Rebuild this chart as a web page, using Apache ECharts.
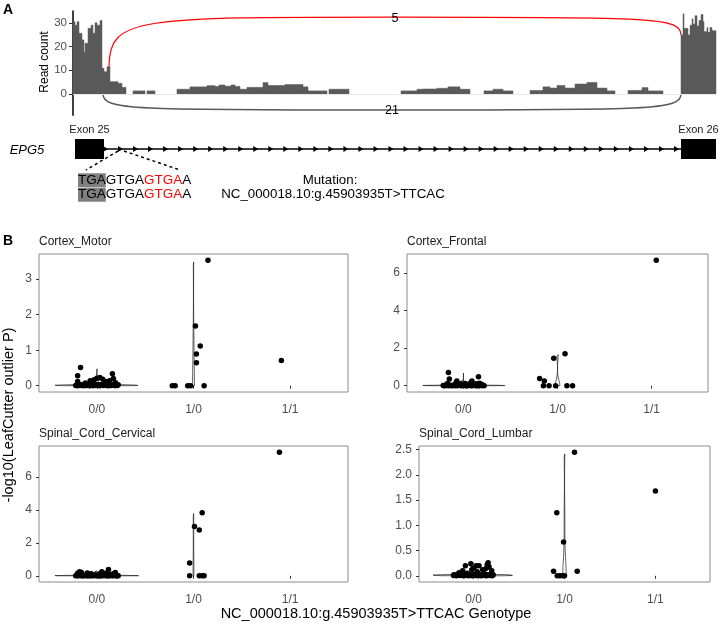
<!DOCTYPE html>
<html>
<head>
<meta charset="utf-8">
<script src="https://cdn.jsdelivr.net/npm/echarts@6.0.0/dist/echarts.min.js"></script>
<style>
  html, body { margin: 0; background: #fff; }
  #chart { width: 722px; height: 628px; }
</style>
</head>
<body>
<div id="chart"></div>
<script>
// ---- panel A: sashimi coverage (position, relative bp) ----
// [start, end, reads]
const coverage = [
  [0, 2, 30.5], [2, 4, 29], [4, 6, 30.5], [6, 9, 25.6], [9, 11, 22.8], [11, 12, 17.4], [12, 15, 21.4],
  [15, 18, 27.7], [18, 20, 29], [20, 22, 25.6], [22, 24, 30], [24, 27, 29], [27, 29, 31],
  [29, 31, 10.8], [31, 34, 9.4], [34, 37, 11.5], [37, 45, 5.2], [45, 49, 4.5], [49, 53, 2.8],
  [60, 72, 1.3], [74, 82, 1.3],
  [104, 117, 2], [117, 134, 3], [134, 142, 3.5], [142, 146, 3.2], [146, 152, 3.8], [152, 158, 3.3],
  [158, 162, 3.8], [162, 167, 3.2], [167, 174, 2], [174, 190, 2.8], [190, 195, 4.8], [195, 212, 3.6],
  [212, 230, 4], [230, 235, 3], [235, 254, 1.3], [256, 276, 2],
  [328, 344, 1.3], [344, 350, 2], [350, 364, 2.1], [364, 375, 2.4], [375, 387, 3], [387, 397, 2],
  [411, 420, 1.3], [420, 430, 2], [430, 440, 1.3],
  [457, 470, 1.5], [470, 477, 3], [477, 484, 2.5], [484, 492, 3.6], [492, 502, 2.5], [502, 514, 4.2],
  [514, 524, 4.9], [524, 534, 2.5], [534, 542, 1.3],
  [555, 569, 1.5], [569, 575, 2.7], [575, 590, 1.3],
  [608, 610, 24.9], [610, 611, 33.8], [611, 615, 27.7], [615, 617, 24.9], [617, 619, 29], [619, 620, 31.7],
  [620, 622, 29.5], [622, 624, 33], [624, 626, 28.7], [626, 628, 31], [628, 630, 33.5], [630, 631, 30.5],
  [631, 634, 26.3], [634, 635, 28], [635, 637, 26], [637, 639, 28], [639, 643, 26.7]
]
// [donor, acceptor, reads, side] side 1 = drawn above, -1 = below
const junctions = [[30, 608, 21, -1], [36, 608, 5, 1]]
const exons = [[2, 31], [608, 643]]
const exonNames = ['Exon 25', 'Exon 26']
const variantPos = 48
const seqWindow = [13, 107]
const readTicks = [0, 10, 20, 30]

// ---- panel B: LeafCutter outlier -log10(P), [jitter offset, value] ----
const genotypes = ['0/0', '1/0', '1/1']
const tissues = ['Cortex_Motor', 'Cortex_Frontal', 'Spinal_Cord_Cervical', 'Spinal_Cord_Lumbar']

const motor00 = [
  [-0.22, 0.004], [-0.21, 0.018], [-0.2, 0.002], [-0.195, 0.026], [-0.18, 0.011], [-0.17, 0.031], [-0.165, 0.006],
  [-0.15, 0.015], [-0.14, 0.001], [-0.13, 0.022], [-0.12, 0.009], [-0.11, 0.028], [-0.1, 0.003], [-0.09, 0.017],
  [-0.085, 0.034], [-0.07, 0.007], [-0.06, 0.021], [-0.05, 0.012], [-0.04, 0.001], [-0.035, 0.029], [-0.02, 0.014],
  [-0.01, 0.005], [0, 0.024], [0.01, 0.009], [0.015, 0.033], [0.03, 0.002], [0.04, 0.019], [0.05, 0.011],
  [0.055, 0.027], [0.07, 0.004], [0.08, 0.016], [0.09, 0.031], [0.1, 0.008], [0.11, 0.02], [0.12, 0.001],
  [0.125, 0.025], [0.14, 0.013], [0.15, 0.006], [0.16, 0.03], [0.17, 0.01], [0.18, 0.022], [0.19, 0.003],
  [0.2, 0.017], [0.21, 0.008], [0.22, 0.026], [-0.155, 0.012], [-0.075, 0.002], [0.025, 0.014], [0.095, 0.019],
  [0.185, 0.005],
  [-0.2, 0.28], [-0.2, 0.12], [-0.17, 0.51], [-0.12, 0.08], [-0.07, 0.14], [-0.03, 0.17], [0, 0.21],
  [0.03, 0.23], [0.06, 0.18], [0.09, 0.12], [0.13, 0.14], [0.16, 0.34], [0.17, 0.2], [0.19, 0.09]
]
const motor10 = [[-0.22, 0], [-0.19, 0], [-0.06, 0], [-0.03, 0], [0.02, 1.68], [0.03, 0.89], [0.03, 0.65], [0.07, 1.12], [0.11, 0], [0.15, 3.53]]
const motor11 = [[-0.09, 0.71]]

const frontal00 = [
  [-0.215, 0.012], [-0.205, 0.003], [-0.19, 0.027], [-0.185, 0.008], [-0.17, 0.019], [-0.16, 0.001], [-0.145, 0.032],
  [-0.135, 0.014], [-0.125, 0.005], [-0.115, 0.023], [-0.1, 0.01], [-0.095, 0.029], [-0.08, 0.002], [-0.065, 0.016],
  [-0.055, 0.006], [-0.045, 0.025], [-0.03, 0.011], [-0.02, 0.001], [-0.005, 0.02], [0.005, 0.009], [0.02, 0.031],
  [0.03, 0.004], [0.045, 0.017], [0.055, 0.007], [0.065, 0.026], [0.075, 0.013], [0.085, 0.002], [0.1, 0.021],
  [0.105, 0.008], [0.12, 0.03], [0.13, 0.015], [0.135, 0.003], [0.15, 0.024], [0.155, 0.011], [0.165, 0.001],
  [0.175, 0.018], [0.185, 0.028], [0.195, 0.006], [0.2, 0.014], [0.21, 0.022], [0.22, 0.004], [-0.2, 0.016],
  [-0.11, 0.007], [-0.04, 0.033], [0.01, 0.013], [0.04, 0.001], [0.095, 0.018], [0.145, 0.009], [0.205, 0.027],
  [-0.15, 0.02],
  [-0.16, 0.71], [-0.15, 0.36], [-0.17, 0.12], [-0.07, 0.25], [-0.08, 0.15], [-0.03, 0.1], [0.02, 0.12],
  [0.06, 0.08], [0.08, 0.17], [0.09, 0.25], [0.13, 0.1], [0.16, 0.48], [0.17, 0.13], [0.19, 0.08]
]
const frontal10 = [[-0.19, 0.39], [-0.14, 0.25], [-0.15, 0], [-0.09, 0], [-0.04, 1.46], [-0.02, 0], [0.08, 1.7], [0.1, 0], [0.16, 0]]
const frontal11 = [[0.05, 6.68]]

const cervical00 = [
  [-0.22, 0.009], [-0.21, 0.024], [-0.2, 0.004], [-0.19, 0.016], [-0.175, 0.031], [-0.165, 0.002], [-0.155, 0.013],
  [-0.14, 0.021], [-0.13, 0.006], [-0.12, 0.028], [-0.105, 0.011], [-0.095, 0.001], [-0.085, 0.019], [-0.07, 0.008],
  [-0.06, 0.026], [-0.05, 0.003], [-0.035, 0.015], [-0.025, 0.032], [-0.015, 0.007], [0, 0.018], [0.01, 0.001],
  [0.02, 0.025], [0.035, 0.01], [0.045, 0.004], [0.06, 0.022], [0.07, 0.013], [0.08, 0.029], [0.09, 0.002],
  [0.1, 0.017], [0.11, 0.008], [0.125, 0.027], [0.135, 0.005], [0.145, 0.014], [0.16, 0.023], [0.17, 0.001],
  [0.18, 0.012], [0.19, 0.03], [0.2, 0.006], [0.21, 0.02], [0.22, 0.011], [-0.185, 0.012], [-0.145, 0.003],
  [-0.075, 0.014], [-0.04, 0.021], [0.025, 0.006], [0.065, 0.016], [0.115, 0.001], [0.155, 0.019], [0.205, 0.004],
  [-0.01, 0.028],
  [-0.2, 0.15], [-0.18, 0.24], [-0.16, 0.2], [-0.1, 0.17], [-0.06, 0.13], [0.03, 0.12], [0.05, 0.24],
  [0.09, 0.15], [0.12, 0.38], [0.13, 0.1], [0.17, 0.12], [0.19, 0.2]
]
const cervical10 = [[-0.04, 0.78], [-0.04, 0], [0.01, 3.0], [0.06, 2.78], [0.09, 3.84], [0.06, 0], [0.09, 0], [0.11, 0]]
const cervical11 = [[-0.11, 7.52]]

const lumbar00 = [
  [-0.22, 0.006], [-0.215, 0.021], [-0.2, 0.012], [-0.19, 0.002], [-0.18, 0.028], [-0.17, 0.009], [-0.155, 0.017],
  [-0.145, 0.004], [-0.135, 0.025], [-0.125, 0.011], [-0.11, 0.001], [-0.1, 0.019], [-0.09, 0.008], [-0.08, 0.03],
  [-0.065, 0.014], [-0.055, 0.003], [-0.045, 0.022], [-0.03, 0.007], [-0.02, 0.016], [-0.01, 0.001], [0.005, 0.026],
  [0.015, 0.01], [0.025, 0.004], [0.035, 0.018], [0.05, 0.031], [0.06, 0.006], [0.07, 0.013], [0.085, 0.002],
  [0.095, 0.023], [0.105, 0.009], [0.12, 0.015], [0.13, 0.029], [0.14, 0.003], [0.155, 0.012], [0.165, 0.02],
  [0.175, 0.005], [0.185, 0.027], [0.195, 0.01], [0.205, 0.001], [0.215, 0.017], [-0.205, 0.014], [-0.16, 0.024],
  [-0.115, 0.005], [-0.07, 0.02], [-0.005, 0.011], [0.045, 0.001], [0.09, 0.016], [0.135, 0.008], [0.18, 0.013],
  [0.21, 0.024],
  [-0.16, 0.06], [-0.12, 0.1], [-0.09, 0.2], [-0.07, 0.05], [-0.03, 0.24], [-0.02, 0.12], [0, 0.15], [0.03, 0.2],
  [0.04, 0.08], [0.06, 0.2], [0.1, 0.12], [0.11, 0.06], [0.14, 0.15], [0.15, 0.22], [0.16, 0.26], [0.17, 0.18], [0.2, 0.1]
]
const lumbar10 = [[-0.12, 0.09], [-0.085, 1.25], [-0.08, 0], [-0.05, 0], [-0.02, 0], [-0.01, 0.67], [0, 0], [0.11, 2.45], [0.14, 0.09]]
const lumbar11 = [[0, 1.68]]

const motorTicks = [0, 1, 2, 3]
const frontalTicks = [0, 2, 4, 6]
const cervicalTicks = [0, 2, 4, 6]
const lumbarTicks = [0, 0.5, 1, 1.5, 2, 2.5]

const FONT = '"Liberation Sans", Arial, Helvetica, sans-serif'
const AXIS_GREY = '#4d4d4d'

const facets = [
  { groups: [motor00, motor10, motor11], ticks: motorTicks, digits: 0, box: { left: 39, top: 254, width: 309, height: 138 } },
  { groups: [frontal00, frontal10, frontal11], ticks: frontalTicks, digits: 0, box: { left: 407, top: 254, width: 301, height: 138 } },
  { groups: [cervical00, cervical10, cervical11], ticks: cervicalTicks, digits: 0, box: { left: 39, top: 446, width: 309, height: 136 } },
  { groups: [lumbar00, lumbar10, lumbar11], ticks: lumbarTicks, digits: 1, box: { left: 419, top: 446, width: 291, height: 136 } }
]

// ---- helpers ----
const maxCov = Math.max(...coverage.map(c => c[2]))
function covAt(pos) {
  const b = coverage.find(c => pos >= c[0] && pos < c[1])
  return b ? b[2] : 0
}

function quantile(sorted, p) {
  const h = (sorted.length - 1) * p
  const lo = Math.floor(h)
  const hi = Math.min(lo + 1, sorted.length - 1)
  return sorted[lo] + (h - lo) * (sorted[hi] - sorted[lo])
}
// R's bw.nrd0
function bwNrd0(x) {
  const n = x.length
  const mean = x.reduce((a, b) => a + b, 0) / n
  const sd = Math.sqrt(x.reduce((a, b) => a + (b - mean) ** 2, 0) / (n - 1))
  const s = x.slice().sort((a, b) => a - b)
  let lo = Math.min(sd, (quantile(s, 0.75) - quantile(s, 0.25)) / 1.34)
  if (!lo) lo = sd || Math.abs(s[0]) || 1
  return 0.9 * lo * Math.pow(n, -0.2)
}
// trimmed gaussian density, like stat_ydensity
function ydensity(x) {
  const bw = bwNrd0(x)
  const lo = Math.min(...x), hi = Math.max(...x)
  const out = []
  for (let i = 0; i < 512; i++) {
    const y = lo + (hi - lo) * i / 511
    let d = 0
    for (const v of x) { const z = (y - v) / bw; d += Math.exp(-0.5 * z * z) }
    out.push([y, d / (x.length * bw * Math.sqrt(2 * Math.PI))])
  }
  return out
}

// ---- build option ----
const grid = [
  { left: 73, right: 6, top: 11, height: 104.3 },
  { left: 73, right: 6, top: 139, height: 20 }
]
const xAxis = [
  { type: 'value', gridIndex: 0, min: 0, max: 643, show: false },
  { type: 'value', gridIndex: 1, min: 0, max: 643, show: false }
]
const yAxis = [
  {
    type: 'value', gridIndex: 0, min: -9, max: 35,
    axisLine: { show: true, lineStyle: { color: '#000', width: 1.5 } },
    axisTick: { show: true, customValues: readTicks, length: 4, lineStyle: { color: '#333' } },
    axisLabel: { customValues: readTicks, color: AXIS_GREY, fontSize: 11.5, fontFamily: FONT, margin: 6 },
    splitLine: { show: false }
  },
  { type: 'value', gridIndex: 1, min: 0, max: 1, show: false }
]

const series = [
  {
    type: 'custom', xAxisIndex: 0, yAxisIndex: 0, data: coverage, silent: true,
    encode: { x: [0, 1], y: 2 },
    renderItem: (params, api) => {
      const a = api.coord([api.value(0), api.value(2)])
      const b = api.coord([api.value(1), 0])
      return {
        type: 'rect',
        shape: { x: a[0], y: a[1], width: b[0] - a[0], height: b[1] - a[1] },
        style: { fill: '#5a5a5a', stroke: '#5a5a5a', lineWidth: 0.5 }
      }
    },
    markLine: {
      silent: true, symbol: 'none', label: { show: false },
      lineStyle: { color: '#e8e8e8', width: 1, type: 'solid' },
      data: [{ yAxis: 0 }]
    },
    z: 2
  },
  {
    type: 'custom', xAxisIndex: 0, yAxisIndex: 0, data: junctions, silent: true, z: 3,
    encode: { x: [0, 1], y: 2 },
    renderItem: (params, api) => {
      const s = api.value(0), e = api.value(1), n = api.value(2), side = api.value(3)
      const up = side > 0
      const apex = up ? 0.96 * maxCov : -0.2 * maxCov
      const p0 = api.coord([s, up ? covAt(s) : 0])
      const p3 = api.coord([e, up ? covAt(e) : 0])
      const m = api.coord([(s + e) / 2, apex])
      const a = api.coord([s, apex])
      const b = api.coord([e, apex])
      const color = up ? '#ff0000' : '#595959'
      const lw = up ? 1.2 : 1.5
      return {
        type: 'group',
        children: [
          {
            type: 'bezierCurve',
            shape: { x1: p0[0], y1: p0[1], x2: m[0], y2: m[1], cpx1: a[0], cpy1: a[1], cpx2: a[0] + 0.1 * (m[0] - a[0]), cpy2: a[1] },
            style: { stroke: color, lineWidth: lw, fill: 'none' }
          },
          {
            type: 'bezierCurve',
            shape: { x1: m[0], y1: m[1], x2: p3[0], y2: p3[1], cpx1: b[0] - 0.1 * (b[0] - m[0]), cpy1: b[1], cpx2: b[0], cpy2: b[1] },
            style: { stroke: color, lineWidth: lw, fill: 'none' }
          },
          {
            type: 'text', x: m[0], y: m[1] + 1,
            style: { text: String(n), fill: '#000', font: '12.5px ' + FONT, align: 'center', verticalAlign: 'middle' }
          }
        ]
      }
    }
  },
  // intron with strand arrows
  {
    type: 'custom', xAxisIndex: 1, yAxisIndex: 1, data: [[exons[0][1], exons[1][0]]], silent: true,
    encode: { x: [0, 1] },
    renderItem: (params, api) => {
      const a = api.coord([api.value(0), 0.5])
      const b = api.coord([api.value(1), 0.5])
      const kids = [{ type: 'line', shape: { x1: a[0], y1: a[1], x2: b[0], y2: b[1] }, style: { stroke: '#000', lineWidth: 1.3 } }]
      const len = b[0] - a[0] - 6
      const steps = Math.round(len / 15)
      for (let i = 0; i <= steps; i++) {
        const x = a[0] + 4 + i * len / steps
        kids.push({ type: 'polygon', shape: { points: [[x - 5, a[1] - 3], [x, a[1]], [x - 5, a[1] + 3]] }, style: { fill: '#000' } })
      }
      return { type: 'group', children: kids }
    }
  },
  // exons
  {
    type: 'custom', xAxisIndex: 1, yAxisIndex: 1, data: exons, silent: true,
    encode: { x: [0, 1] },
    renderItem: (params, api) => {
      const a = api.coord([api.value(0), 1])
      const b = api.coord([api.value(1), 0])
      return {
        type: 'group',
        children: [
          { type: 'rect', shape: { x: a[0], y: a[1], width: b[0] - a[0], height: b[1] - a[1] }, style: { fill: '#000' } },
          {
            type: 'text', x: (a[0] + b[0]) / 2, y: a[1] - 4,
            style: { text: exonNames[params.dataIndex], fill: '#1a1a1a', font: '11px ' + FONT, align: 'center', verticalAlign: 'bottom' }
          }
        ]
      }
    }
  },
  // callout from the variant to the sequence window
  {
    type: 'custom', xAxisIndex: 1, yAxisIndex: 1, data: [[variantPos, seqWindow[0], seqWindow[1]]], silent: true,
    encode: { x: [0, 1, 2] },
    renderItem: (params, api) => {
      const v = api.coord([api.value(0), 0.5])
      const l = api.coord([api.value(1), 0.5])
      const r = api.coord([api.value(2), 0.5])
      const st = { stroke: '#000', lineWidth: 1.5, lineDash: [3, 3] }
      return {
        type: 'group',
        children: [
          { type: 'line', shape: { x1: v[0] - 3, y1: v[1] + 2, x2: l[0], y2: l[1] + 21 }, style: st },
          { type: 'line', shape: { x1: v[0] + 3, y1: v[1] + 2, x2: r[0], y2: r[1] + 21 }, style: st }
        ]
      }
    }
  }
]

const title = []
facets.forEach((f, i) => {
  const gi = i + 2
  const vals = f.groups.flat().map(p => p[1])
  const lo = Math.min(...vals), hi = Math.max(...vals)
  const pad = 0.05 * (hi - lo)
  grid.push(Object.assign({ show: true, borderColor: '#8c8c8c', borderWidth: 1 }, f.box))
  title.push({
    text: tissues[i], left: f.box.left, top: f.box.top - 18, padding: 0,
    textStyle: { fontSize: 12, fontWeight: 'normal', color: '#1a1a1a', fontFamily: FONT }
  })
  xAxis.push({
    type: 'value', gridIndex: gi, min: 0.4, max: 3.6,
    axisLine: { show: false },
    axisTick: { show: true, customValues: [1, 2, 3], length: 3, lineStyle: { color: '#333' } },
    axisLabel: { customValues: [1, 2, 3], formatter: v => genotypes[Math.round(v) - 1], color: AXIS_GREY, fontSize: 12, fontFamily: FONT, margin: 12 },
    splitLine: { show: false }
  })
  yAxis.push({
    type: 'value', gridIndex: gi, min: lo - pad, max: hi + pad,
    axisLine: { show: false },
    axisTick: { show: true, customValues: f.ticks, length: 3, lineStyle: { color: '#333' } },
    axisLabel: { customValues: f.ticks, formatter: v => v.toFixed(f.digits), color: AXIS_GREY, fontSize: 12, fontFamily: FONT, margin: 7 },
    splitLine: { show: false }
  })

  // violins, scaled by area across the groups of the panel
  const dens = f.groups.map(g => g.length >= 2 ? ydensity(g.map(p => p[1])) : null)
  const maxD = Math.max(...dens.filter(Boolean).map(d => Math.max(...d.map(p => p[1]))))
  dens.forEach((d, k) => {
    if (!d) return
    const c = k + 1
    const right = d.map(([y, w]) => [c + 0.45 * w / maxD, y])
    const left = d.slice().reverse().map(([y, w]) => [c - 0.45 * w / maxD, y])
    series.push({
      type: 'line', xAxisIndex: gi, yAxisIndex: gi, data: right.concat(left, [right[0]]),
      showSymbol: false, symbol: 'none', silent: true, z: 2,
      lineStyle: { color: '#1a1a1a', width: 0.7 }
    })
  })

  series.push({
    type: 'scatter', xAxisIndex: gi, yAxisIndex: gi, silent: true, z: 3,
    symbolSize: 5.5, itemStyle: { color: '#000', opacity: 1 },
    data: f.groups.flatMap((g, k) => g.map(p => [k + 1 + p[0], p[1]]))
  })
})

const graphic = [
  { type: 'text', x: 3, y: 3, style: { text: 'A', fill: '#000', font: 'bold 14px ' + FONT } },
  { type: 'text', x: 3, y: 234, style: { text: 'B', fill: '#000', font: 'bold 14px ' + FONT } },
  { type: 'text', x: 45, y: 62, rotation: Math.PI / 2, style: { text: 'Read count', fill: '#000', font: '12px ' + FONT, align: 'center', verticalAlign: 'middle' } },
  { type: 'text', x: 27, y: 150, style: { text: 'EPG5', fill: '#000', font: 'italic 13px ' + FONT, align: 'center', verticalAlign: 'middle' } },
  {
    type: 'text', x: 78, y: 173,
    style: {
      text: '{g|TGA}{k|GTGA}{r|GTGA}{k|A}\n{g|TGA}{k|GTGA}{r|GTGA}{k|A}',
      font: '13.5px ' + FONT,
      rich: {
        g: { backgroundColor: '#808080', fill: '#000', fontSize: 13.5, lineHeight: 14.5, fontFamily: FONT },
        k: { fill: '#000', fontSize: 13.5, lineHeight: 14.5, fontFamily: FONT },
        r: { fill: '#ff0000', fontSize: 13.5, lineHeight: 14.5, fontFamily: FONT }
      }
    }
  },
  { type: 'text', x: 330, y: 180, style: { text: 'Mutation:', fill: '#000', font: '13.3px ' + FONT, align: 'center', verticalAlign: 'middle' } },
  { type: 'text', x: 333, y: 194.5, style: { text: 'NC_000018.10:g.45903935T>TTCAC', fill: '#000', font: '13.3px ' + FONT, align: 'center', verticalAlign: 'middle' } },
  { type: 'text', x: 9, y: 415, rotation: Math.PI / 2, style: { text: '-log10(LeafCutter outlier P)', fill: '#000', font: '14.5px ' + FONT, align: 'center', verticalAlign: 'middle' } },
  { type: 'text', x: 376, y: 614, style: { text: 'NC_000018.10:g.45903935T>TTCAC Genotype', fill: '#000', font: '14.5px ' + FONT, align: 'center', verticalAlign: 'middle' } }
]

const chart = echarts.init(document.getElementById('chart'), null, { renderer: 'canvas' })
chart.setOption({
  animation: false,
  backgroundColor: '#fff',
  textStyle: { fontFamily: FONT },
  title, grid, xAxis, yAxis, series, graphic
})
</script>
</body>
</html>
